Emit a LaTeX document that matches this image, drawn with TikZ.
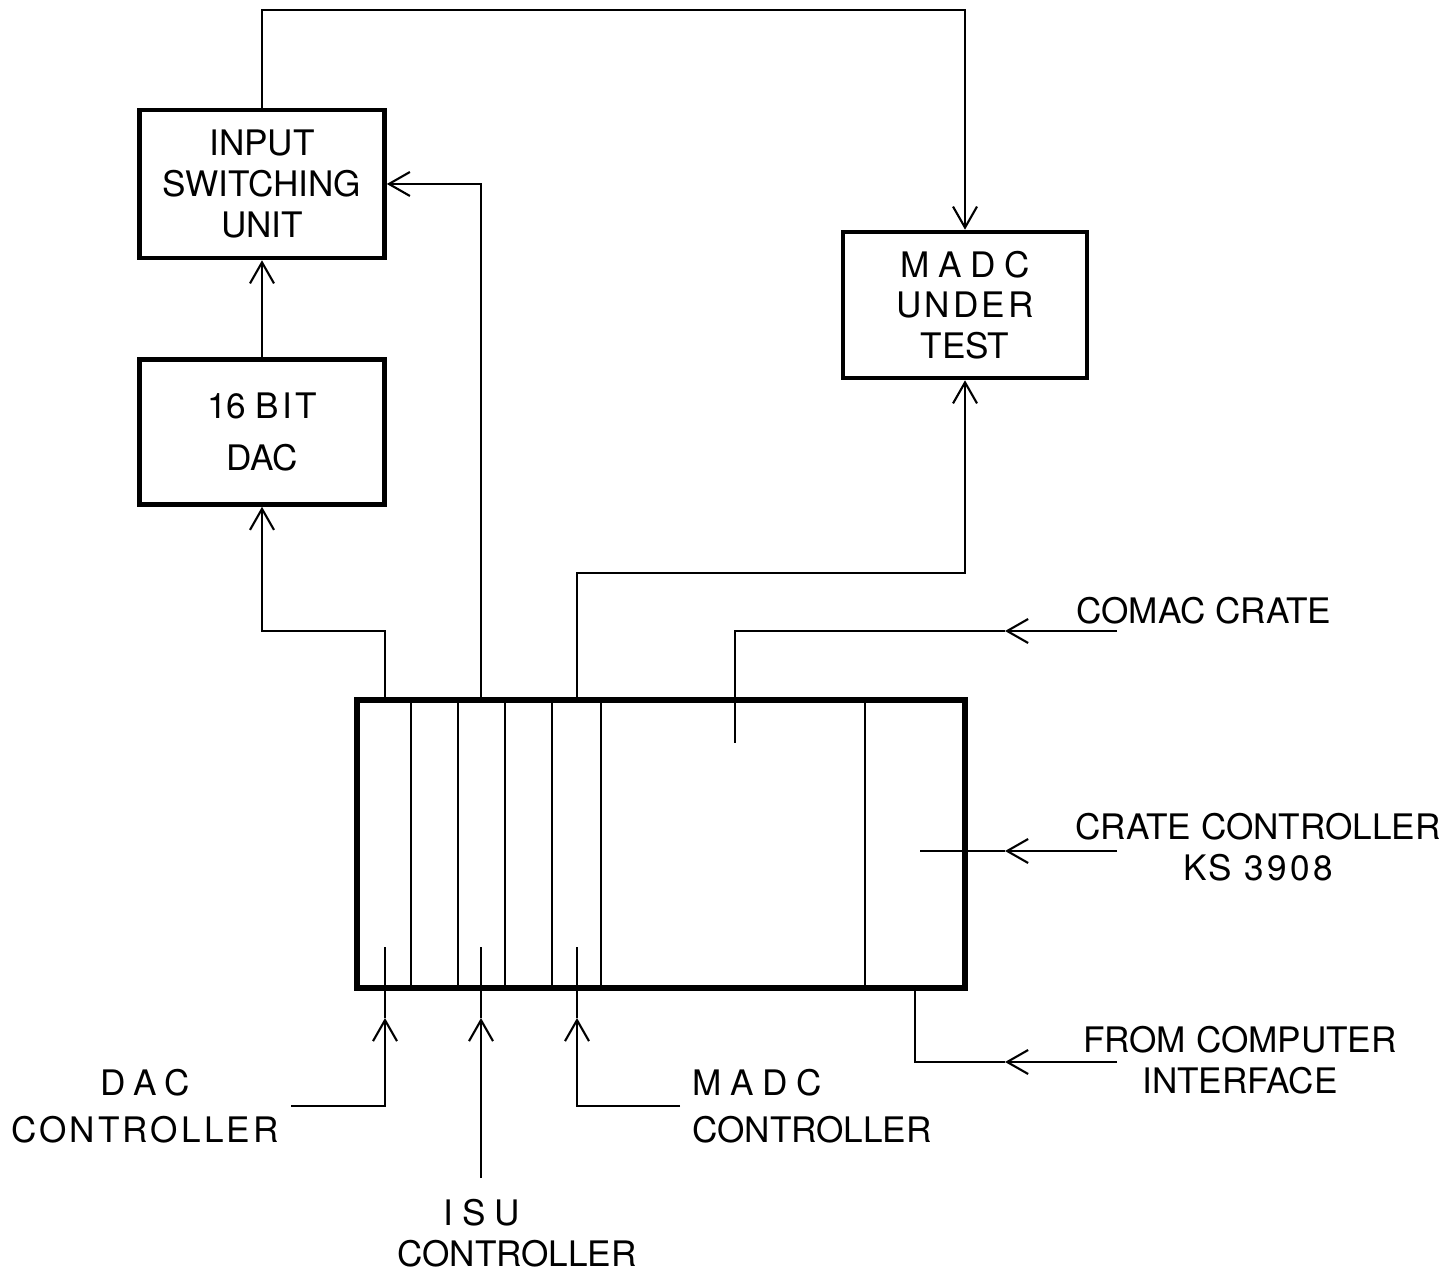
\documentclass[tikz,border=0pt]{standalone}
\usepackage{fontspec}
\setmainfont{TeX Gyre Heros}
\newfontfamily\spc[LetterSpace=25]{TeX Gyre Heros}
\newfontfamily\spd[LetterSpace=9]{TeX Gyre Heros}
\usetikzlibrary{arrows.meta}

\begin{document}
\begin{tikzpicture}[x=0.1mm, y=-0.1mm, every node/.style={font=\fontsize{10}{11.6}\selectfont},
		blk/.style={draw, line width=1.3pt, align=center, inner sep=0pt},
		ln/.style={line width=0.6pt},
		ar/.style={ln, -{Straight Barb[length=2.1mm, width=2.4mm]}}]
	\useasboundingbox (0,0) rectangle (1449,1276);
	% units
	\node[blk, minimum width=24.5mm, minimum height=14.8mm] (isu)  at (262,184) {INPUT\\SWITCHING\\UNIT};
	\node[blk, minimum width=24.5mm, minimum height=14.5mm] (dac)  at (262,432) {16 {\spd BIT}\\[3.4pt]DAC};
	\node[blk, minimum width=24.4mm, minimum height=14.6mm] (madc) at (965,305) {{\spc MADC}\\{\spd UNDER}\\TEST};
	\node[blk, line width=1.5pt, minimum width=60.8mm, minimum height=28.8mm] (crate) at (661,844) {};
	% crate slots
	\foreach \x in {411,458,505,552,601,865}
		\draw[line width=0.45pt] (\x,700) -- (\x,988);
	% labels
	\node[anchor=west] (lcomac) at (1064,611) {COMAC CRATE};
	\node[align=center] (lcc)  at (1258,847) {CRATE CONTROLLER\\{\spd KS 3908}};
	\node[align=center] (lfci) at (1240,1060) {FROM COMPUTER\\INTERFACE};
	\node[align=center] (ldac) at (145,1106) {{\spc DAC}\\[1.6pt]{\spd CONTROLLER}};
	\node[align=center] (lisu) at (517,1233) {{\spc ISU}\hspace*{7mm}\\CONTROLLER};
	\node[align=left, anchor=west] (lmadc) at (680,1106) {{\spc MADC}\\[1.6pt]CONTROLLER};
	% outputs on top of the crate
	\coordinate (o1) at (385,700);
	\coordinate (o2) at (481,700);
	\coordinate (o3) at (577,700);
	\draw[ar] (o1) -- ++(0,-69) -| (dac.south);
	\draw[ar] (dac.north) -- (isu.south);
	\draw[ar] (o2) |- (isu.east);
	\draw[ar] (o3) -- ++(0,-127) -| (madc.south);
	\draw[ar] (isu.north) -- ++(0,-98) -| (madc.north);
	% inputs from the right
	\coordinate (k1) at (1117,631);  \coordinate (t1) at (1005,631);  \coordinate (s1) at (735,743);
	\coordinate (k2) at (1117,851);  \coordinate (t2) at (1005,851);  \coordinate (s2) at (920,851);
	\coordinate (k3) at (1117,1062); \coordinate (t3) at (1005,1062); \coordinate (s3) at (915,988);
	\foreach \i in {1,2,3} {
		\draw[ar] (k\i) -- (t\i);
		\draw[ln] (t\i) -| (s\i);
	}
	% controllers below
	\coordinate (b1) at (385,1018); \coordinate (c1) at (385,947);
	\coordinate (b2) at (481,1018); \coordinate (c2) at (481,947);
	\coordinate (b3) at (577,1018); \coordinate (c3) at (577,947);
	\coordinate (e2) at (481,1178);
	\draw[ar] (ldac.east) -| (b1);
	\draw[ar] (e2) -- (b2);
	\draw[ar] (lmadc.west) -| (b3);
	\foreach \i in {1,2,3}
		\draw[ln] (b\i) -- (c\i);
\end{tikzpicture}
\end{document}
